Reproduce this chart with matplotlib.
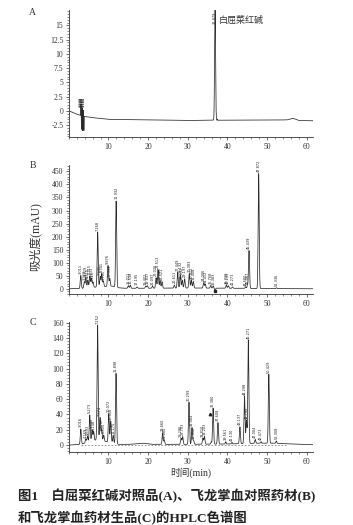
import numpy as np
import matplotlib
matplotlib.use("Agg")
import matplotlib.pyplot as plt
from matplotlib.ticker import MultipleLocator

plt.rcParams['font.family'] = ['Liberation Serif', 'Noto Sans CJK SC']
plt.rcParams['axes.unicode_minus'] = False

# ---- data ----
# panel A: chelerythrine reference standard
a_base_t = [0, 2, 4, 6, 10, 20, 30, 36, 40, 50, 55, 56.5, 58, 62]
a_base_v = [0.0, -0.6, -1.0, -1.2, -1.5, -1.6, -1.7, -1.65, -1.65, -1.6, -1.6, -1.3, -1.7, -1.75]
a_rt = [3.05, 3.2, 3.35, 3.5, 3.65, 3.8, 36.88, 37.5]
a_h = [2.0, -2.4, 1.4, -2.6, 1.0, -2.5, 19.5, 0.2]
a_lab = ['3.049', '3.186', '3.323', '3.487', '3.601', '3.754', '36.879', '']

# panel B: reference crude drug
b_base_t = [0, 3, 5, 8, 11, 12.5, 14, 20, 30, 40, 50, 62]
b_base_v = [0, 1, 4, 8, 10, 4, 2, 2, 3, 2, 1, 0]
b_rt = [3.01, 3.9, 4.3, 4.8, 5.3, 5.7, 6.1, 7.27, 7.9, 8.3, 8.7, 9.88, 10.33, 11.93,
        15.0, 15.5, 17.2, 19.4, 19.8, 21.1, 22.0, 22.5, 23.0, 23.5, 26.6, 27.45, 28.1,
        28.6, 29.2, 30.38, 30.9, 31.4, 34.0, 34.4, 35.77, 36.4, 36.85, 39.7, 40.2, 41.27,
        44.58, 45.06, 45.44, 47.87, 52.34]
b_h = [50, 25, 40, 30, 45, 35, 20, 210, 40, 50, 20, 80, 30, 330,
       10, 12, 5, 8, 10, 8, 40, 70, 30, 25, 12, 60, 50,
       30, 35, 55, 30, 25, 20, 15, 10, 8, -8, 12, 10, 5,
       5, 12, 145, 440, 3]
b_lab = ['3.011', '3.923', '4.329', '4.815', '5.315', '5.733', '6.128', '7.268', '7.931', '8.341',
         '8.701', '9.876', '10.333', '11.932', '15.021', '15.538', '17.195', '19.402', '19.837',
         '21.097', '22.026', '22.513', '23.027', '23.521', '26.611', '27.449', '28.132', '28.632',
         '29.197', '30.383', '30.912', '31.408', '34.006', '34.412', '35.768', '36.383', '',
         '39.720', '40.233', '41.273', '44.580', '45.067', '45.439', '47.872', '52.336']

# panel C: crude drug sample
c_base_t = [0, 3, 5, 7, 9, 11, 12.5, 15, 18, 19, 21, 30, 40, 48, 52, 56, 62]
c_base_v = [0, 1, 4, 7, 5, 3, 1, 1, 2, 2.5, 1, 1, 1.5, 2.5, 2.5, 1.5, 0.5]
c_rt = [3.02, 4.27, 4.7, 5.27, 5.85, 6.25, 7.25, 7.87, 8.27, 8.8, 10.07, 10.56, 11.18, 11.9,
        23.66, 24.08, 28.3, 28.7, 30.3, 31.06, 31.45, 33.8, 34.2, 35.9, 36.38, 37.61,
        39.56, 41.13, 43.14, 44.3, 44.79, 45.27, 47.0, 48.47, 50.43, 52.31]
c_h = [20, 5, 8, 35, 15, 12, 150, 30, 15, 8, 37, 28, 10, 92,
       15, 5, 8, 10, 55, 22, 5, 8, 10, 3, 47, 28,
       3, 2, 22, 62, 30, 135, 5, 2, 90, 3]
c_lab = ['3.016', '4.269', '4.693', '5.273', '5.846', '6.248', '7.252', '7.874', '8.267', '8.805',
         '10.072', '10.556', '11.175', '11.898', '23.660', '24.080', '28.296', '28.703', '30.299',
         '31.064', '31.452', '33.810', '34.203', '', '36.380', '37.608', '39.561', '41.130',
         '43.137', '44.298', '44.786', '45.271', '47.004', '48.473', '50.429', '52.308']

line_col = '#2a2a2a'
t = np.linspace(0, 62, 8000)


def trace(base_t, base_v, rts, hs, width, spike_w=None):
    y = np.interp(t, base_t, base_v)
    for rt, h in zip(rts, hs):
        w = width if abs(h) > 3 else width * 0.8
        if spike_w is not None and abs(h) < 5:
            w = spike_w
        y = y + h * np.exp(-0.5 * ((t - rt) / w) ** 2)
    return y


def style_axis(ax, ylim, major, minor):
    ax.set_xlim(0, 61.6)
    ax.set_ylim(*ylim)
    for s in ['top', 'right']:
        ax.spines[s].set_visible(False)
    for s in ['left', 'bottom']:
        ax.spines[s].set_linewidth(0.6)
        ax.spines[s].set_color('#333333')
    ax.xaxis.set_major_locator(MultipleLocator(10))
    ax.xaxis.set_minor_locator(MultipleLocator(2))
    ax.yaxis.set_major_locator(MultipleLocator(major))
    ax.yaxis.set_minor_locator(MultipleLocator(minor))
    ax.tick_params(which='major', length=2.5, width=0.5, labelsize=5.5, pad=1.5, colors='#333333')
    ax.tick_params(which='minor', length=1.2, width=0.4, colors='#333333')
    ax.set_xticks([10, 20, 30, 40, 50, 60])


def peak_labels(ax, rts, hs, labs, base_t, base_v, off):
    for rt, h, lab in zip(rts, hs, labs):
        if not lab:
            continue
        top = np.interp(rt, base_t, base_v) + max(h, 0)
        ax.text(rt, top + off, lab, rotation=90, fontsize=2.5, ha='center', va='bottom',
                color='#222222', family='DejaVu Sans')


fig = plt.figure(figsize=(3.53, 5.25), dpi=100)
axA = fig.add_axes([0.195, 0.739, 0.692, 0.242])
axB = fig.add_axes([0.195, 0.440, 0.692, 0.246])
axC = fig.add_axes([0.195, 0.139, 0.692, 0.248])

# A
yA = trace(a_base_t, a_base_v, a_rt, a_h, 0.12, spike_w=0.03)
axA.plot(t, yA, color=line_col, lw=0.55)
style_axis(axA, (-4.6, 17.7), 2.5, 0.5)
axA.set_yticks([-2.5, 0, 2.5, 5, 7.5, 10, 12.5, 15])
axA.set_yticklabels(['-2.5', '0', '2.5', '5', '7.5', '10', '12.5', '15'])
for rt, lab in zip(a_rt[:6], a_lab[:6]):
    axA.text(rt, 0.6, lab, rotation=90, fontsize=2.5, ha='center', va='bottom',
             color='#222222', family='DejaVu Sans')
axA.text(36.88, 15.3, a_lab[6], rotation=90, fontsize=2.5, ha='center', va='bottom',
         color='#222222', family='DejaVu Sans')
axA.text(37.8, 15.8, '白屈菜红碱', fontsize=6.5, color='#333333', va='center')

# B
yB = trace(b_base_t, b_base_v, b_rt, b_h, 0.13)
axB.plot(t, yB, color=line_col, lw=0.55)
style_axis(axB, (-20, 475), 50, 10)
peak_labels(axB, b_rt, b_h, b_lab, b_base_t, b_base_v, 6)
axB.plot([36.85], [-8], marker='s', ms=1.5, color='#222222')

# C
yC = trace(c_base_t, c_base_v, c_rt, c_h, 0.13)
axC.plot(t, yC, color=line_col, lw=0.55)
axC.plot([3, 55], [0.8, 0.8], color='#444444', lw=0.4, ls=(0, (3, 3)))
style_axis(axC, (-9, 161), 20, 4)
peak_labels(axC, c_rt, c_h, c_lab, c_base_t, c_base_v, 2)
axC.plot([35.7], [40], marker='^', ms=1.8, color='#222222')

# panel letters and axis titles
for y, letter in [(0.977, 'A'), (0.684, 'B'), (0.385, 'C')]:
    fig.text(0.093, y, letter, fontsize=7, color='#333333', ha='center', va='center')
fig.text(0.099, 0.55, '吸光度(mAU)', rotation=90, fontsize=8.5, color='#333333',
         ha='center', va='center')
fig.text(0.54, 0.099, '时间(min)', fontsize=7, color='#333333', ha='center', va='center')

# caption
cap_font = ['Liberation Serif', 'Noto Sans CJK SC']
fig.text(0.051, 0.055, '图1　白屈菜红碱对照品(A)、飞龙掌血对照药材(B)', fontsize=9.6,
         fontweight='bold', color='#222222', ha='left', va='center', family=cap_font)
fig.text(0.051, 0.014, '和飞龙掌血药材生品(C)的HPLC色谱图', fontsize=9.6,
         fontweight='bold', color='#222222', ha='left', va='center', family=cap_font)

fig.savefig('out.png', dpi=100, facecolor='white')
